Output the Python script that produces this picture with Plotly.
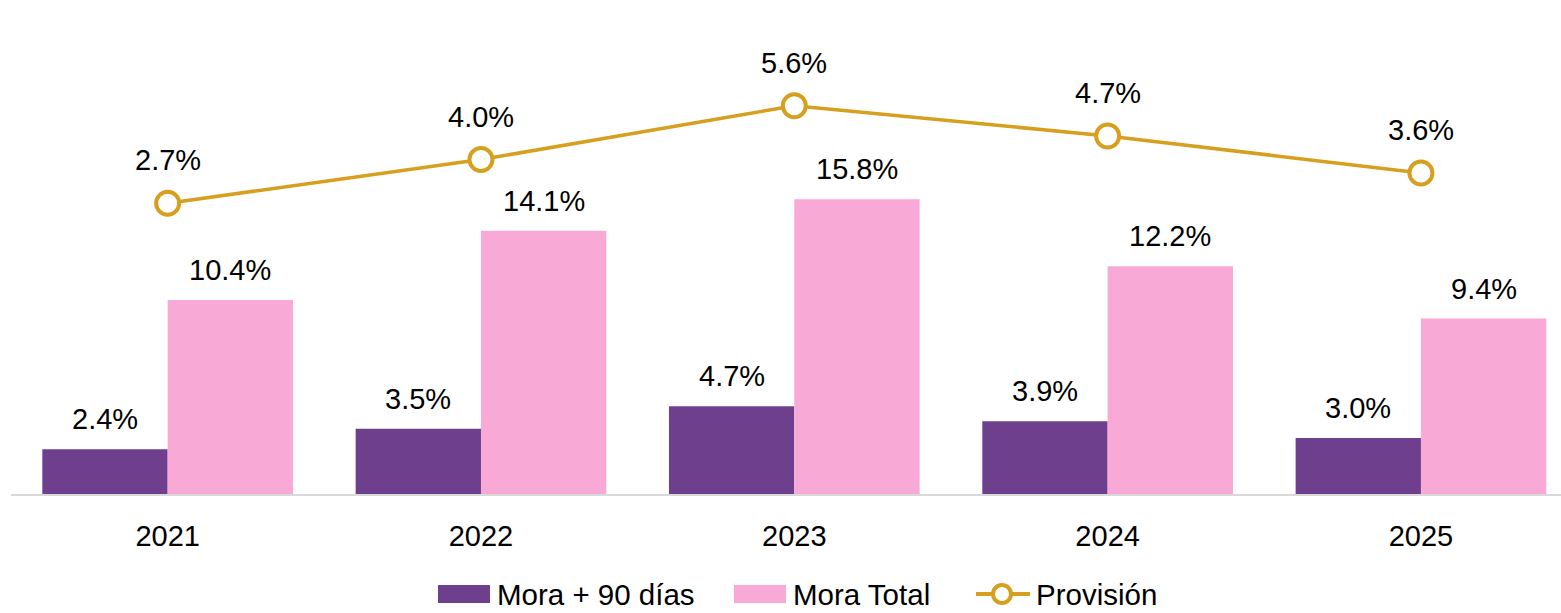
import plotly.graph_objects as go

years = ["2021", "2022", "2023", "2024", "2025"]
mora90 = [2.4, 3.5, 4.7, 3.9, 3.0]
mora_total = [10.4, 14.1, 15.8, 12.2, 9.4]
provision = [2.7, 4.0, 5.6, 4.7, 3.6]
series_names = ["Mora + 90 días", "Mora Total", "Provisión"]

PURPLE = "#6D3F8D"
PINK = "#F9A9D6"
GOLD = "#D6A01E"
FONT = "Liberation Sans, Arial, sans-serif"

W, H = 1561, 613
ML, MR, MT, MB = 11, 0, 20, 119
PW, PH = W - ML - MR, H - MT - MB


def px(xp):
    return (xp - ML) / PW


def py(yp):
    return (H - MB - yp) / PH


fig = go.Figure()
fig.add_trace(go.Bar(x=years, y=mora90, name=series_names[0], marker_color=PURPLE,
                     marker_line_width=0, yaxis="y"))
fig.add_trace(go.Bar(x=years, y=mora_total, name=series_names[1], marker_color=PINK,
                     marker_line_width=0, yaxis="y"))
fig.add_trace(go.Scatter(
    x=years, y=provision, name=series_names[2], yaxis="y2", mode="lines+markers",
    line=dict(color=GOLD, width=3.5),
    marker=dict(symbol="circle", size=23, color="white", line=dict(color=GOLD, width=4)),
))

ann = []
for i, yr in enumerate(years):
    ann.append(dict(x=i, y=mora90[i], xref="x", yref="y", text=f"{mora90[i]:.1f}%",
                    showarrow=False, xshift=-62.6, yshift=30, yanchor="middle",
                    font=dict(size=29, color="black", family=FONT)))
    ann.append(dict(x=i, y=mora_total[i], xref="x", yref="y", text=f"{mora_total[i]:.1f}%",
                    showarrow=False, xshift=62.6, yshift=30, yanchor="middle",
                    font=dict(size=29, color="black", family=FONT)))
    ann.append(dict(x=i, y=provision[i], xref="x", yref="y2", text=f"{provision[i]:.1f}%",
                    showarrow=False, yshift=43, yanchor="middle",
                    font=dict(size=29, color="black", family=FONT)))

# Manual legend (Excel-style wide swatches)
LEG_Y = 594
shapes = [
    dict(type="rect", xref="paper", yref="paper", x0=px(438), x1=px(490), y0=py(LEG_Y - 9), y1=py(LEG_Y + 9),
         fillcolor=PURPLE, line=dict(width=0)),
    dict(type="rect", xref="paper", yref="paper", x0=px(734), x1=px(786), y0=py(LEG_Y - 9), y1=py(LEG_Y + 9),
         fillcolor=PINK, line=dict(width=0)),
    dict(type="line", xref="paper", yref="paper", x0=px(976), x1=px(1030), y0=py(LEG_Y), y1=py(LEG_Y),
         line=dict(color=GOLD, width=4)),
    dict(type="circle", xref="paper", yref="paper", x0=px(993), x1=px(1011), y0=py(LEG_Y - 9), y1=py(LEG_Y + 9),
         fillcolor="white", line=dict(color=GOLD, width=4)),
]
for name, xp in zip(series_names, [495, 791, 1034]):
    ann.append(dict(x=px(xp), y=py(LEG_Y), xref="paper", yref="paper", text=name,
                    showarrow=False, xanchor="left", yanchor="middle",
                    font=dict(size=29.5, color="black", family=FONT)))

fig.update_layout(
    width=W, height=H,
    margin=dict(l=ML, r=MR, t=MT, b=MB),
    paper_bgcolor="white", plot_bgcolor="white",
    barmode="group", bargap=0.2, bargroupgap=0,
    font=dict(family=FONT, size=29, color="black"),
    xaxis=dict(type="category", range=[-0.5, 4.447], showgrid=False, showline=True,
               linecolor="#D9D9D9", linewidth=1.5, ticks="", ticklabelstandoff=15,
               tickfont=dict(size=29, color="black", family=FONT)),
    yaxis=dict(range=[0, 25.4], visible=False, showgrid=False, zeroline=False),
    yaxis2=dict(range=[-5.95, 8.15], overlaying="y", side="right", visible=False,
                showgrid=False, zeroline=False),
    showlegend=False,
    annotations=ann,
    shapes=shapes,
)

fig.write_html("out.html", config={"displayModeBar": False},
               post_script="document.body.style.margin='0';document.body.style.overflow='hidden';")
